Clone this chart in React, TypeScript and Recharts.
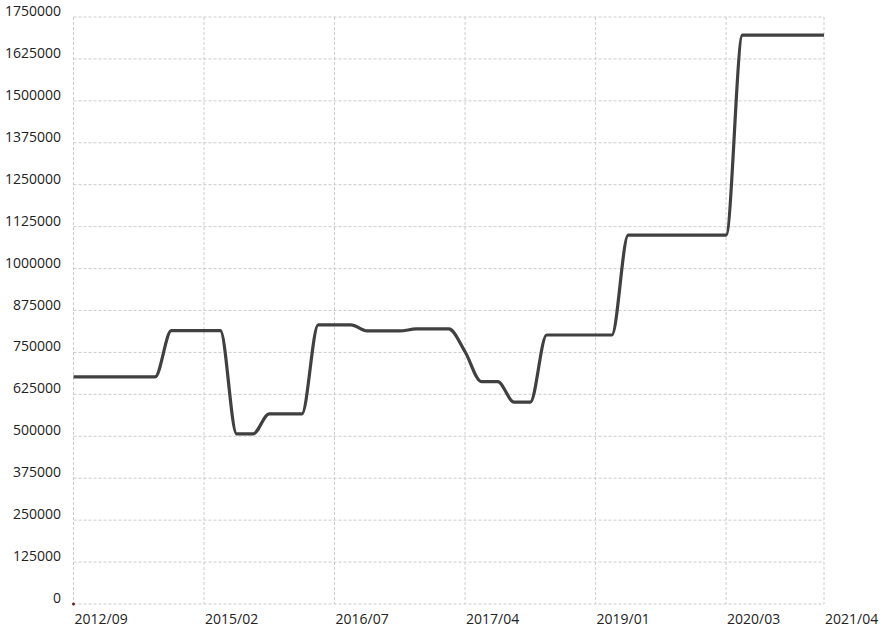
import React from "react";
import { LineChart, Line, XAxis, YAxis, CartesianGrid, ReferenceDot } from "recharts";

const values: number[] = [
  677000, 677000, 677000, 677000, 677000, 677000,
  815000, 815000, 815000, 815000,
  507000, 507000,
  567000, 567000, 567000,
  832000, 832000, 832000,
  814000, 814000, 814000,
  820000, 820000, 820000,
  752000,
  663000, 663000,
  602000, 602000,
  802000, 802000, 802000, 802000, 802000,
  1100000, 1100000, 1100000, 1100000, 1100000, 1100000, 1100000,
  1696000, 1696000, 1696000, 1696000, 1696000, 1696000,
];

const tickIndices: number[] = [0, 8, 16, 24, 32, 40, 46];
const tickLabels: string[] = ["2012/09", "2015/02", "2016/07", "2017/04", "2019/01", "2020/03", "2021/04"];
const yTicks: number[] = [
  0, 125000, 250000, 375000, 500000, 625000, 750000, 875000, 1000000,
  1125000, 1250000, 1375000, 1500000, 1625000, 1750000,
];

const data = values.map((v, i) => ({ idx: i, value: v }));

const FONT = "'Open Sans', sans-serif";

const XTick = (props: any) => {
  const { x, payload } = props;
  const k = tickIndices.indexOf(payload.value);
  return (
    <text x={x + 1} y={624} fontSize={14} fontFamily={FONT} fill="#222" textAnchor="start">
      {k >= 0 ? tickLabels[k] : ""}
    </text>
  );
};

const YTick = (props: any) => {
  const { y, payload } = props;
  return (
    <text x={61} y={y - 1} fontSize={14} fontFamily={FONT} fill="#222" textAnchor="end">
      {payload.value}
    </text>
  );
};

export default function App() {
  return (
    <div style={{ position: "absolute", left: 0, top: 0 }}>
      <LineChart
        width={882}
        height={631}
        data={data}
        margin={{ top: 17, right: 58, left: 0, bottom: 0 }}
      >
        <CartesianGrid stroke="#cccccc" strokeDasharray="3 2" />
        <XAxis
          dataKey="idx"
          type="number"
          domain={[0, 46]}
          ticks={tickIndices}
          interval={0}
          axisLine={false}
          tickLine={false}
          height={27}
          tick={<XTick />}
        />
        <YAxis
          type="number"
          domain={[0, 1750000]}
          ticks={yTicks}
          interval={0}
          axisLine={false}
          tickLine={false}
          width={73.5}
          tick={<YTick />}
        />
        <Line
          type="monotone"
          dataKey="value"
          stroke="#404040"
          strokeWidth={3.2}
          dot={false}
          activeDot={false}
          isAnimationActive={false}
        />
        <ReferenceDot x={0} y={0} r={1.5} fill="#6b2222" stroke="none" />
      </LineChart>
    </div>
  );
}
